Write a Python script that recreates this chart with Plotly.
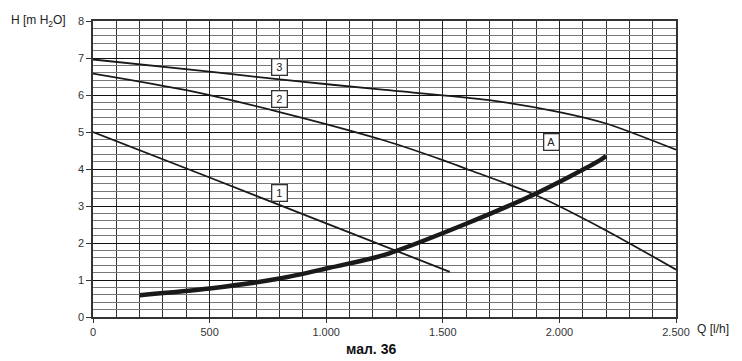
import plotly.graph_objects as go

# Data
q1 = [0, 500, 1000, 1530]
h1 = [5.0, 3.77, 2.53, 1.22]

q2 = [0, 400, 800, 1250, 1500, 1620, 1900, 2200, 2500]
h2 = [6.58, 6.13, 5.54, 4.77, 4.24, 3.96, 3.29, 2.34, 1.28]

q3 = [0, 500, 800, 1230, 1700, 2000, 2200, 2500]
h3 = [6.96, 6.63, 6.42, 6.15, 5.86, 5.54, 5.23, 4.52]

qa = [200, 500, 800, 1000, 1250, 1600, 1900, 2175, 2200]
ha = [0.59, 0.77, 1.04, 1.31, 1.68, 2.52, 3.34, 4.24, 4.35]

curve_labels = ["1", "2", "3", "A"]
label_q = [800, 800, 800, 1967]
label_h = [3.36, 5.88, 6.76, 4.72]

x_tickvals = [0, 500, 1000, 1500, 2000, 2500]
x_ticktext = ["0", "500", "1.000", "1.500", "2.000", "2.500"]
y_tickvals = [0, 1, 2, 3, 4, 5, 6, 7, 8]

fig = go.Figure()
line_col = "#1a1a1a"
for q, h, w in [(q1, h1, 1.8), (q2, h2, 1.8), (q3, h3, 1.8), (qa, ha, 4.5)]:
    fig.add_trace(go.Scatter(x=q, y=h, mode="lines",
                             line=dict(color=line_col, width=w, shape="spline", smoothing=0.8),
                             showlegend=False, hoverinfo="skip"))

for t, x, y in zip(curve_labels, label_q, label_h):
    fig.add_annotation(x=x, y=y, text=t, showarrow=False,
                       font=dict(family="Liberation Sans, Arial", size=11, color="#222"),
                       bgcolor="white", bordercolor="#333", borderwidth=1.3, borderpad=1,
                       width=12, height=13)

font = dict(family="Liberation Sans, Arial", size=12, color="#222")
fig.add_annotation(xref="paper", yref="paper", x=-0.043, y=1.0, xanchor="right", yanchor="middle",
                   text="H [m H<sub>2</sub>O]", showarrow=False, font=font)
fig.add_annotation(xref="paper", yref="paper", x=1.033, y=-0.042, xanchor="left", yanchor="middle",
                   text="Q [l/h]", showarrow=False, font=font)
fig.add_annotation(xref="paper", yref="paper", x=0.477, y=-0.109, xanchor="center", yanchor="middle",
                   text="<b>мал. 36</b>", showarrow=False,
                   font=dict(family="Liberation Sans, Arial", size=14, color="#111"))

tickfont = dict(family="Liberation Sans, Arial", size=11, color="#333")
fig.update_xaxes(range=[0, 2500], tickvals=x_tickvals, ticktext=x_ticktext,
                 ticks="outside", ticklen=4, tickcolor="#333",
                 showgrid=True, gridcolor="#222", gridwidth=1,
                 minor=dict(dtick=100, showgrid=True, gridcolor="#333", gridwidth=1),
                 showline=True, linecolor="#333", linewidth=1.5, mirror=True,
                 zeroline=False, automargin=False, tickfont=tickfont)
fig.update_yaxes(range=[0, 8], tickvals=y_tickvals,
                 ticks="outside", ticklen=5, tickcolor="#333",
                 showgrid=True, gridcolor="#111", gridwidth=1.2,
                 minor=dict(dtick=0.2, showgrid=True, gridcolor="#777", gridwidth=1.2),
                 showline=True, linecolor="#333", linewidth=1.5, mirror=True,
                 zeroline=False, automargin=False, tickfont=tickfont)

# page body has an 8px margin, so offset the plot area accordingly
fig.update_layout(width=742, height=361, margin=dict(l=85, r=74, t=13, b=52),
                  plot_bgcolor="white", paper_bgcolor="white")
fig.write_html("out.html")
